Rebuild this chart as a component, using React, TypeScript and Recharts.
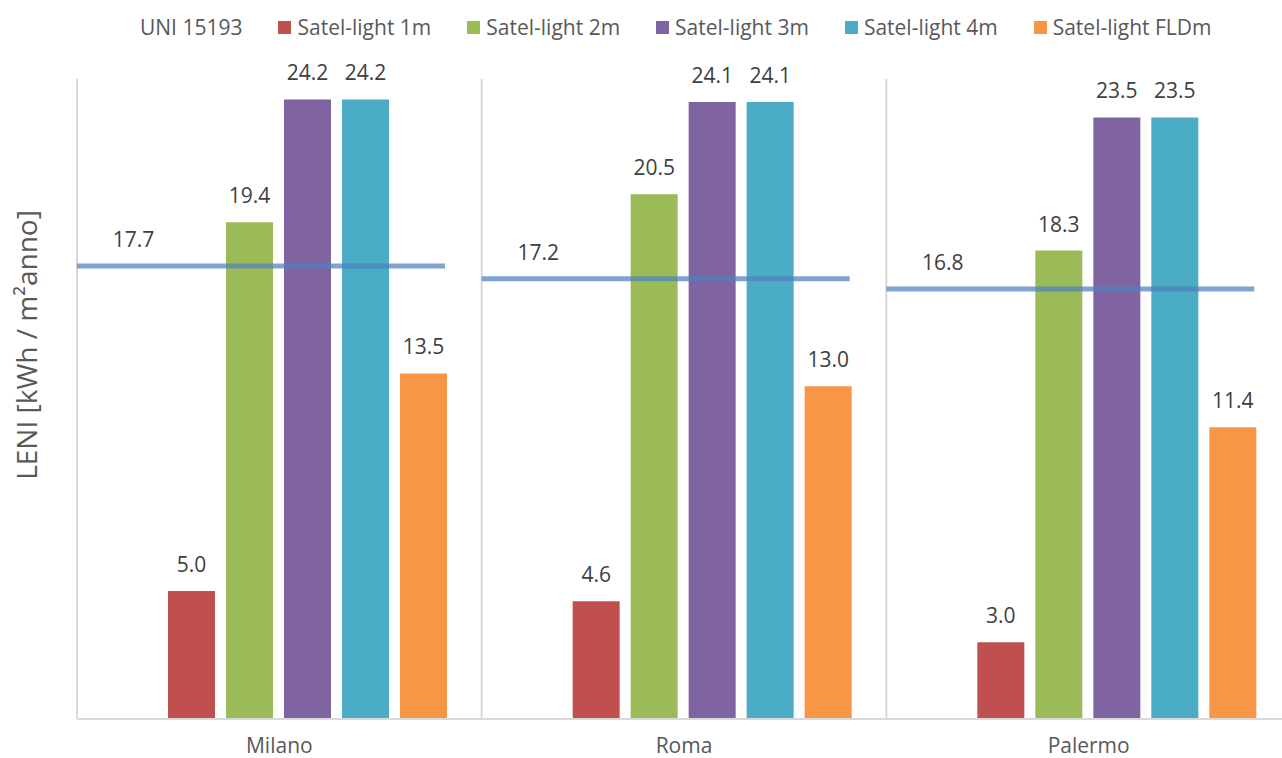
import React from 'react';
import { ComposedChart, Bar, Line, XAxis, YAxis, CartesianGrid, LabelList } from 'recharts';

// values
const cities = ['Milano', 'Roma', 'Palermo'];
const uni15193 = [17.7, 17.2, 16.8];
const satel1m = [5.0, 4.6, 3.0];
const satel2m = [19.4, 20.5, 18.3];
const satel3m = [24.2, 24.1, 23.5];
const satel4m = [24.2, 24.1, 23.5];
const satelFLDm = [13.5, 13.0, 11.4];

const barKeys = ['s1', 's2', 's3', 's4', 'fld'];
const barNames = ['Satel-light 1m', 'Satel-light 2m', 'Satel-light 3m', 'Satel-light 4m', 'Satel-light FLDm'];
const uniName = 'UNI 15193';

const barColors = ['#C0504D', '#9BBB59', '#8064A2', '#4BACC6', '#F79646'];
const uniColor = '#4F81BD';

const data = cities.map((city, i) => ({
  city,
  uni: uni15193[i],
  s1: satel1m[i],
  s2: satel2m[i],
  s3: satel3m[i],
  s4: satel4m[i],
  fld: satelFLDm[i],
}));

const CHART_W = 1300;
const CHART_H = 758;
const MARGIN = { top: 79, right: 9, bottom: 9, left: 77 };
const XAXIS_H = 30;
const PLOT_W = CHART_W - MARGIN.left - MARGIN.right;
const BAND = PLOT_W / cities.length;
const UNI_LEN = 368;

const FONT = '"Open Sans", sans-serif';
const FS = 21;
const fmt = (v: any) => Number(v).toFixed(1);

const CityTick = ({ x, y, payload }: any) => (
  <text x={x} y={y + 34} textAnchor="middle" fontFamily={FONT} fontSize={FS} fill="#595959">
    {payload.value}
  </text>
);

// UNI 15193 reference drawn as a flat segment across each city group
const UniSegment = (props: any) => {
  const { cx, cy, index } = props;
  if (cx == null || cy == null) return <g key={`uni-${index}`} />;
  const x0 = cx - BAND / 2;
  return (
    <line
      key={`uni-${index}`}
      x1={x0}
      x2={x0 + UNI_LEN}
      y1={cy}
      y2={cy}
      stroke={uniColor}
      strokeOpacity={0.72}
      strokeWidth={5}
    />
  );
};

function LegendRow() {
  return (
    <div
      style={{
        position: 'absolute',
        top: 15,
        left: 121,
        display: 'flex',
        alignItems: 'center',
        fontFamily: FONT,
        fontSize: FS,
        lineHeight: '24px',
        color: '#595959',
        whiteSpace: 'nowrap',
      }}
    >
      <div style={{ display: 'flex', alignItems: 'center', marginRight: 36 }}>
        <span style={{ width: 13, height: 13, marginRight: 6, visibility: 'hidden' }} />
        <span>{uniName}</span>
      </div>
      {barNames.map((name, i) => (
        <div key={name} style={{ display: 'flex', alignItems: 'center', marginRight: 36 }}>
          <span style={{ width: 13, height: 13, marginRight: 6, background: barColors[i] }} />
          <span>{name}</span>
        </div>
      ))}
    </div>
  );
}

export default function App() {
  return (
    <div
      style={{
        position: 'absolute',
        left: 0,
        top: 0,
        width: 1282,
        height: 758,
        overflow: 'hidden',
        background: '#fff',
      }}
    >
      <ComposedChart
        width={CHART_W}
        height={CHART_H}
        data={data}
        margin={MARGIN}
        barCategoryGap={33}
        barGap={11}
      >
        <CartesianGrid
          horizontal={false}
          stroke="#D9D9D9"
          strokeWidth={2}
          verticalCoordinatesGenerator={() =>
            [...cities.map((_, i) => MARGIN.left + i * BAND), MARGIN.left + PLOT_W]
          }
        />
        <XAxis
          dataKey="city"
          height={XAXIS_H}
          tickLine={false}
          tickSize={0}
          tickMargin={0}
          interval={0}
          axisLine={{ stroke: '#D9D9D9', strokeWidth: 2 }}
          tick={<CityTick />}
        />
        <YAxis hide width={0} domain={[0, 25]} />
        <Bar dataKey="uni" name={uniName} fill="none" isAnimationActive={false}>
          <LabelList
            dataKey="uni"
            position="top"
            offset={19}
            formatter={fmt}
            fill="#404040"
            fontSize={FS}
            fontFamily={FONT}
          />
        </Bar>
        {barKeys.map((k, i) => (
          <Bar key={k} dataKey={k} name={barNames[i]} fill={barColors[i]} isAnimationActive={false}>
            <LabelList
              dataKey={k}
              position="top"
              offset={19}
              formatter={fmt}
              fill="#404040"
              fontSize={FS}
              fontFamily={FONT}
            />
          </Bar>
        ))}
        <Line
          dataKey="uni"
          stroke="none"
          isAnimationActive={false}
          activeDot={false}
          legendType="none"
          dot={UniSegment}
        />
      </ComposedChart>
      <LegendRow />
      <svg width={60} height={758} style={{ position: 'absolute', left: 0, top: 0 }}>
        <text
          x={26}
          y={345}
          transform="rotate(-90 26 345)"
          textAnchor="middle"
          dominantBaseline="central"
          fontFamily={FONT}
          fontSize={28}
          fill="#595959"
        >
          LENI [kWh / m²anno]
        </text>
      </svg>
    </div>
  );
}
